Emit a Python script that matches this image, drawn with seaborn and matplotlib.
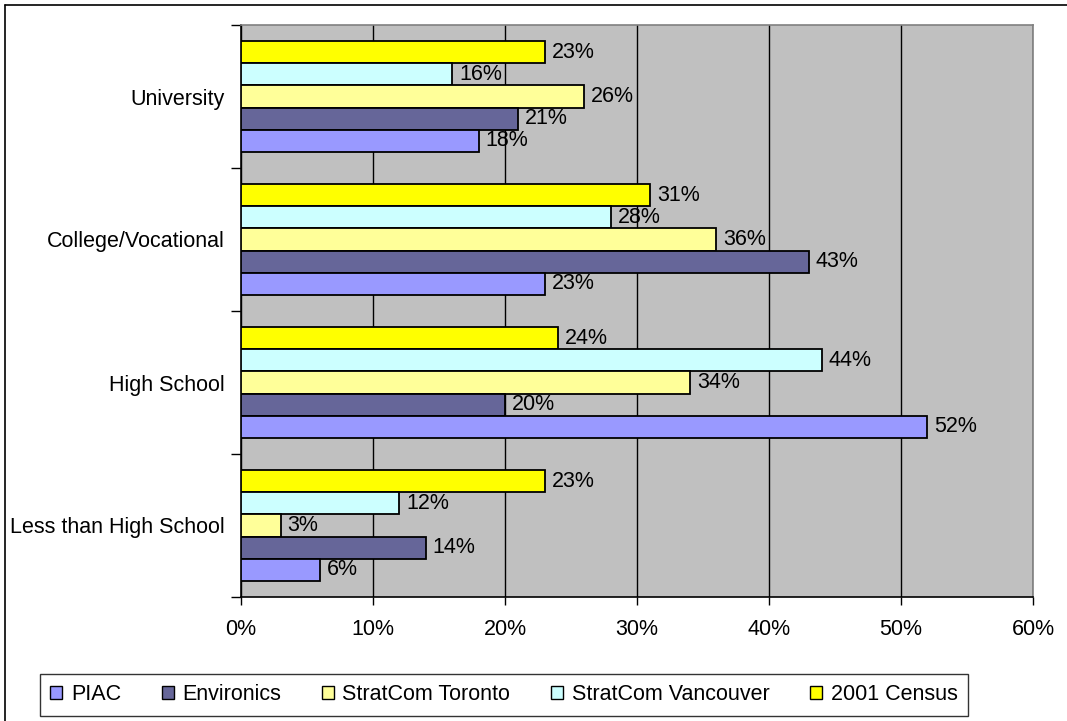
import matplotlib
matplotlib.use("Agg")
import matplotlib.pyplot as plt
from matplotlib.patches import Patch
from matplotlib.lines import Line2D
import seaborn as sns
import pandas as pd

levels = ["University", "College/Vocational", "High School", "Less than High School"]
sources = ["PIAC", "Environics", "StratCom Toronto", "StratCom Vancouver", "2001 Census"]
piac = [18, 23, 52, 6]
environics = [21, 43, 20, 14]
stratcom_toronto = [26, 36, 34, 3]
stratcom_vancouver = [16, 28, 44, 12]
census_2001 = [23, 31, 24, 23]
x_ticks = [0, 10, 20, 30, 40, 50, 60]

colors = {
    "PIAC": "#9999FF",
    "Environics": "#666699",
    "StratCom Toronto": "#FFFF99",
    "StratCom Vancouver": "#CCFFFF",
    "2001 Census": "#FFFF00",
}

series = [piac, environics, stratcom_toronto, stratcom_vancouver, census_2001]
rows = []
for src, vals in zip(sources, series):
    for lvl, v in zip(levels, vals):
        rows.append({"level": lvl, "source": src, "value": v})
df = pd.DataFrame(rows)

sns.set_style("white")
plt.rcParams["font.family"] = ["Liberation Sans", "DejaVu Sans"]
plt.rcParams["text.color"] = "black"
plt.rcParams["xtick.color"] = "black"
plt.rcParams["ytick.color"] = "black"
FS = 15.5

fig = plt.figure(figsize=(10.67, 7.21), dpi=100)
ax = fig.add_axes([241 / 1067, 1 - 597 / 721, (1033 - 241) / 1067, (597 - 25) / 721])

hue_order = list(reversed(sources))
sns.barplot(data=df, y="level", x="value", hue="source", order=levels,
            hue_order=hue_order, palette=colors, saturation=1, orient="h", width=0.77,
            edgecolor="black", linewidth=1.3, legend=False, ax=ax, zorder=3)

for cont in ax.containers:
    ax.bar_label(cont, fmt="%d%%", padding=5, fontsize=FS, color="black")

ax.set_facecolor("#C0C0C0")
ax.set_xlim(0, 60)
ax.set_ylim(3.5, -0.5)
ax.set_xticks(x_ticks)
ax.set_xticklabels([f"{t}%" for t in x_ticks], fontsize=FS)
ax.tick_params(axis="x", length=6, width=1, pad=10, direction="out", bottom=True)
ax.set_yticks(range(len(levels)))
ax.set_yticklabels(levels, fontsize=FS)
ax.set_yticks([i - 0.5 for i in range(len(levels) + 1)], minor=True)
ax.tick_params(axis="y", which="major", length=0, pad=12)
ax.tick_params(axis="y", which="minor", length=7, width=1, direction="out", left=True)
ax.set_xlabel("")
ax.set_ylabel("")
ax.grid(axis="x", color="black", linewidth=1, zorder=0)
ax.set_axisbelow(True)
for name, sp in ax.spines.items():
    sp.set_visible(True)
    sp.set_linewidth(1.2)
    sp.set_color("black" if name in ("left", "bottom") else "#808080")

handles = [Patch(facecolor=colors[s], edgecolor="black", linewidth=1) for s in sources]
leg = fig.legend(handles, sources, loc="center", ncol=5,
                 bbox_to_anchor=((41 + 967) / 2 / 1067, 1 - 695 / 721),
                 fontsize=FS, frameon=True, fancybox=False, edgecolor="black",
                 handlelength=0.55, handleheight=0.55, handletextpad=0.4,
                 columnspacing=1.9, borderpad=0.5)
leg.get_frame().set_linewidth(1)

# outer chart frame (top and left edges)
fig.lines.append(Line2D([5 / 1067, 1], [1 - 5 / 721, 1 - 5 / 721],
                        transform=fig.transFigure, color="black", linewidth=1.2))
fig.lines.append(Line2D([5 / 1067, 5 / 1067], [0, 1 - 5 / 721],
                        transform=fig.transFigure, color="black", linewidth=1.2))

fig.savefig("out.png", dpi=100, facecolor="white")
